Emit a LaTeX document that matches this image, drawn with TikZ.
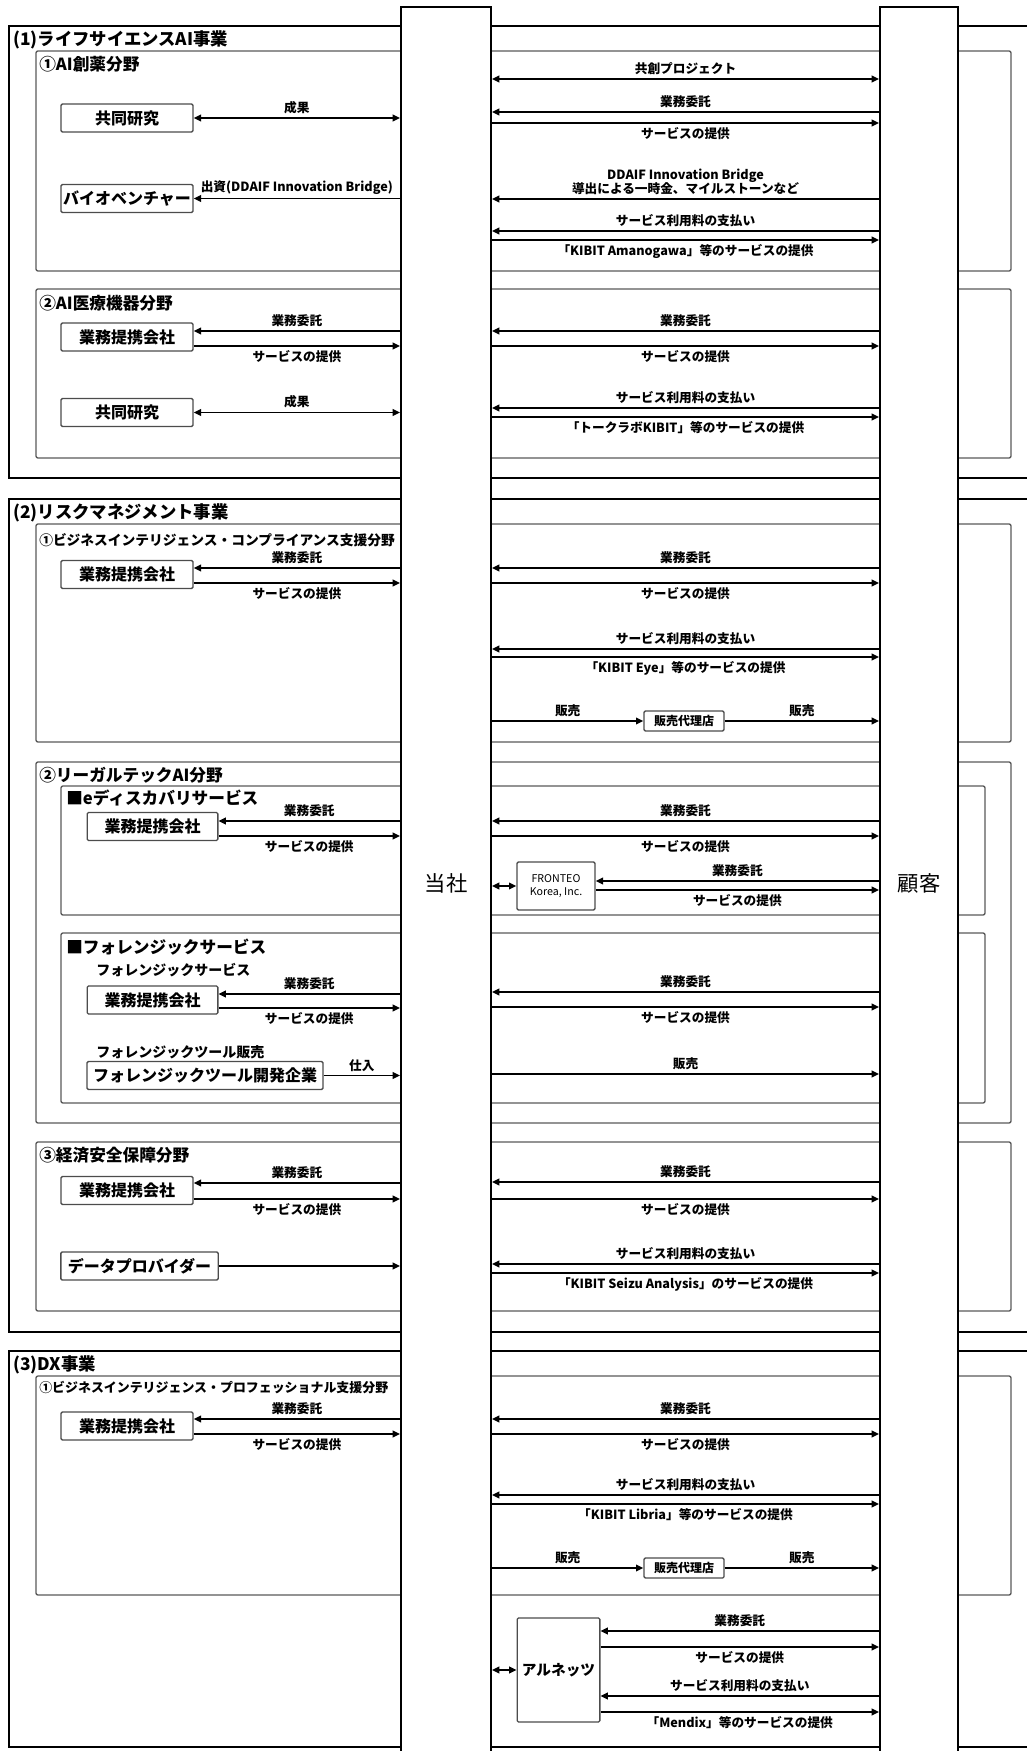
\documentclass[tikz,border=0pt]{standalone}
\usepackage{fontspec}
\setmainfont{Noto Sans CJK JP}
\usetikzlibrary{arrows.meta}

\tikzset{
  segment/.style={draw=black, line width=1.5pt},
  field/.style={draw=black!65, line width=1pt, rounded corners=1.5pt},
  col/.style={draw=black, line width=1.5pt, fill=white, minimum height=1314pt, font=\fontsize{16}{18}\selectfont},
  ent/.style={draw=black!70, line width=1pt, fill=white, rounded corners=1pt, minimum height=21pt, inner sep=1pt, font=\bfseries\fontsize{12}{14}\selectfont},
  mid/.style={draw=black!70, line width=1pt, fill=white, rounded corners=1pt, inner sep=1pt},
  lbl/.style={font=\bfseries\fontsize{9.5}{10.5}\selectfont, inner sep=2.5pt},
  head/.style={anchor=west, inner sep=0pt, font=\bfseries\fontsize{13}{15}\selectfont},
  subhead/.style={anchor=west, inner sep=0pt, font=\bfseries\fontsize{12.5}{14}\selectfont},
  longhead/.style={anchor=west, inner sep=0pt, font=\bfseries\fontsize{10.3}{12}\selectfont},
  note/.style={anchor=west, inner sep=0pt, font=\bfseries\fontsize{10.5}{12}\selectfont},
  fwd/.style={line width=1.2pt, -{Triangle[length=5.5pt,width=5pt]}},
  dbl/.style={line width=1.2pt, {Triangle[length=5.5pt,width=5pt]}-{Triangle[length=5.5pt,width=5pt]}},
}

\begin{document}
\begin{tikzpicture}[x=0.75pt,y=-0.75pt]
\useasboundingbox (0,0) rectangle (1027,1751);
\clip (0,0) rectangle (1027,1751);

% business segments and fields
\draw[segment] (9,26) rectangle (1050,478);
\draw[segment] (9,499) rectangle (1050,1332);
\draw[segment] (9,1351) rectangle (1050,1747);
\draw[field] (36,51) rectangle (1011,271);
\draw[field] (36,289) rectangle (1011,458);
\draw[field] (36,524) rectangle (1011,742);
\draw[field] (36,762) rectangle (1011,1123);
\draw[field] (61,786) rectangle (985,915);
\draw[field] (61,933) rectangle (985,1103);
\draw[field] (36,1142) rectangle (1011,1311);
\draw[field] (36,1376) rectangle (1011,1595);

\node[head] (segA) at (13,40) {(1)ライフサイエンスAI事業};
\node[subhead] (fieldA1) at (39,64) {①AI創薬分野};
\node[subhead] (fieldA2) at (39,303) {②AI医療機器分野};
\node[head] (segB) at (13,513) {(2)リスクマネジメント事業};
\node[longhead] (fieldB1) at (39,540) {①ビジネスインテリジェンス・コンプライアンス支援分野};
\node[subhead] (fieldB2) at (39,775) {②リーガルテックAI分野};
\node[subhead] (svcE) at (66,798) {■eディスカバリサービス};
\node[subhead] (svcF) at (66,947) {■フォレンジックサービス};
\node[note] (noteF1) at (96,970) {フォレンジックサービス};
\node[note] (noteF2) at (96,1052) {フォレンジックツール販売};
\node[subhead] (fieldB3) at (39,1155) {③経済安全保障分野};
\node[head] (segC) at (13,1365) {(3)DX事業};
\node[longhead, font=\bfseries\fontsize{9.7}{12}\selectfont] (fieldC1) at (39,1388) {①ビジネスインテリジェンス・プロフェッショナル支援分野};

% the two columns
\node[col, minimum width=67.5pt] (tosha) at (446,883) {当社};
\node[col, minimum width=58.5pt] (kokyaku) at (919,883) {顧客};

% partners on the left
\node[ent, minimum width=99pt] (kyodoA) at (127,118) {共同研究};
\node[ent, minimum width=99pt] (bio) at (127,198.5) {バイオベンチャー};
\node[ent, minimum width=99pt] (kaishaB) at (127,337) {業務提携会社};
\node[ent, minimum width=99pt] (kyodoB) at (127,412.5) {共同研究};
\node[ent, minimum width=99pt] (kaishaC) at (127,574.5) {業務提携会社};
\node[ent, minimum width=98pt] (kaishaD) at (152.5,826.5) {業務提携会社};
\node[ent, minimum width=98pt] (kaishaE) at (152.5,1000) {業務提携会社};
\node[ent, minimum width=177pt] (tooldev) at (205,1075.5) {フォレンジックツール開発企業};
\node[ent, minimum width=99pt] (kaishaF) at (127,1190.5) {業務提携会社};
\node[ent, minimum width=118pt] (provider) at (139.5,1266) {データプロバイダー};
\node[ent, minimum width=99pt] (kaishaG) at (127,1426) {業務提携会社};

% boxes between the columns
\node[mid, minimum width=60pt, minimum height=15pt, font=\bfseries\fontsize{9}{10}\selectfont] (agentA) at (684,721) {販売代理店};
\node[mid, minimum width=58.5pt, minimum height=36pt, align=center, font=\fontsize{8}{9.5}\selectfont] (fronteo) at (556,886) {FRONTEO\\Korea, Inc.};
\node[mid, minimum width=60pt, minimum height=15pt, font=\bfseries\fontsize{9}{10}\selectfont] (agentB) at (684,1568) {販売代理店};
\node[mid, minimum width=62pt, minimum height=78pt, font=\bfseries\fontsize{11}{13}\selectfont] (alnets) at (558.5,1670) {アルネッツ};

% left side flows
\draw[dbl] (kyodoA.east) -- (tosha.west |- kyodoA.east) node[lbl, midway, above] {成果};
\draw[fwd] (tosha.west |- bio.east) -- (bio.east) node[lbl, midway, above] {出資(DDAIF Innovation Bridge)};
\draw[dbl] (kyodoB.east) -- (tosha.west |- kyodoB.east) node[lbl, midway, above] {成果};
\foreach \n/\a/\b in {kaishaB/331/346, kaishaC/568/583, kaishaD/821/836, kaishaE/994/1008, kaishaF/1183/1199, kaishaG/1419/1434} {
  \draw[fwd] (tosha.west |- 0,\a) -- (\n.east |- 0,\a) node[lbl, midway, above] {業務委託};
  \draw[fwd] (\n.east |- 0,\b) -- (tosha.west |- 0,\b) node[lbl, midway, below] {サービスの提供};
}
\draw[fwd] (tooldev.east) -- (tosha.west |- tooldev.east) node[lbl, midway, above] {仕入};
\draw[fwd] (provider.east) -- (tosha.west |- provider.east);

% right side flows
\draw[dbl] (tosha.east |- 0,79) -- (kokyaku.west |- 0,79) node[lbl, midway, above] {共創プロジェクト};
\foreach \a/\b in {112/123, 331/346, 568/583, 821/836, 992/1007, 1182/1199, 1419/1434} {
  \draw[fwd] (kokyaku.west |- 0,\a) -- (tosha.east |- 0,\a) node[lbl, midway, above] {業務委託};
  \draw[fwd] (tosha.east |- 0,\b) -- (kokyaku.west |- 0,\b) node[lbl, midway, below] {サービスの提供};
}
\draw[fwd] (kokyaku.west |- 0,199) -- (tosha.east |- 0,199) node[lbl, midway, above, align=center] {DDAIF Innovation Bridge\\導出による一時金、マイルストーンなど};
\foreach \a/\b/\t in {231/240/「KIBIT Amanogawa」等のサービスの提供, 408/417/「トークラボKIBIT」等のサービスの提供, 649/657/「KIBIT Eye」等のサービスの提供, 1264/1273/「KIBIT Seizu Analysis」のサービスの提供, 1495/1504/「KIBIT Libria」等のサービスの提供} {
  \draw[fwd] (kokyaku.west |- 0,\a) -- (tosha.east |- 0,\a) node[lbl, midway, above] {サービス利用料の支払い};
  \draw[fwd] (tosha.east |- 0,\b) -- (kokyaku.west |- 0,\b) node[lbl, midway, below] {\t};
}
\draw[fwd] (tosha.east |- agentA.west) -- (agentA.west) node[lbl, midway, above] {販売};
\draw[fwd] (agentA.east) -- (kokyaku.west |- agentA.east) node[lbl, midway, above] {販売};
\draw[fwd] (tosha.east |- agentB.west) -- (agentB.west) node[lbl, midway, above] {販売};
\draw[fwd] (agentB.east) -- (kokyaku.west |- agentB.east) node[lbl, midway, above] {販売};
\draw[fwd] (tosha.east |- 0,1074) -- (kokyaku.west |- 0,1074) node[lbl, midway, above] {販売};

% FRONTEO Korea
\draw[dbl] (tosha.east |- fronteo.west) -- (fronteo.west);
\draw[fwd] (kokyaku.west |- 0,881) -- (fronteo.east |- 0,881) node[lbl, midway, above] {業務委託};
\draw[fwd] (fronteo.east |- 0,890) -- (kokyaku.west |- 0,890) node[lbl, midway, below] {サービスの提供};

% Alnets
\draw[dbl] (tosha.east |- alnets.west) -- (alnets.west);
\draw[fwd] (kokyaku.west |- 0,1631) -- (alnets.east |- 0,1631) node[lbl, midway, above] {業務委託};
\draw[fwd] (alnets.east |- 0,1647) -- (kokyaku.west |- 0,1647) node[lbl, midway, below] {サービスの提供};
\draw[fwd] (kokyaku.west |- 0,1696) -- (alnets.east |- 0,1696) node[lbl, midway, above] {サービス利用料の支払い};
\draw[fwd] (alnets.east |- 0,1712) -- (kokyaku.west |- 0,1712) node[lbl, midway, below] {「Mendix」等のサービスの提供};
\end{tikzpicture}
\end{document}
